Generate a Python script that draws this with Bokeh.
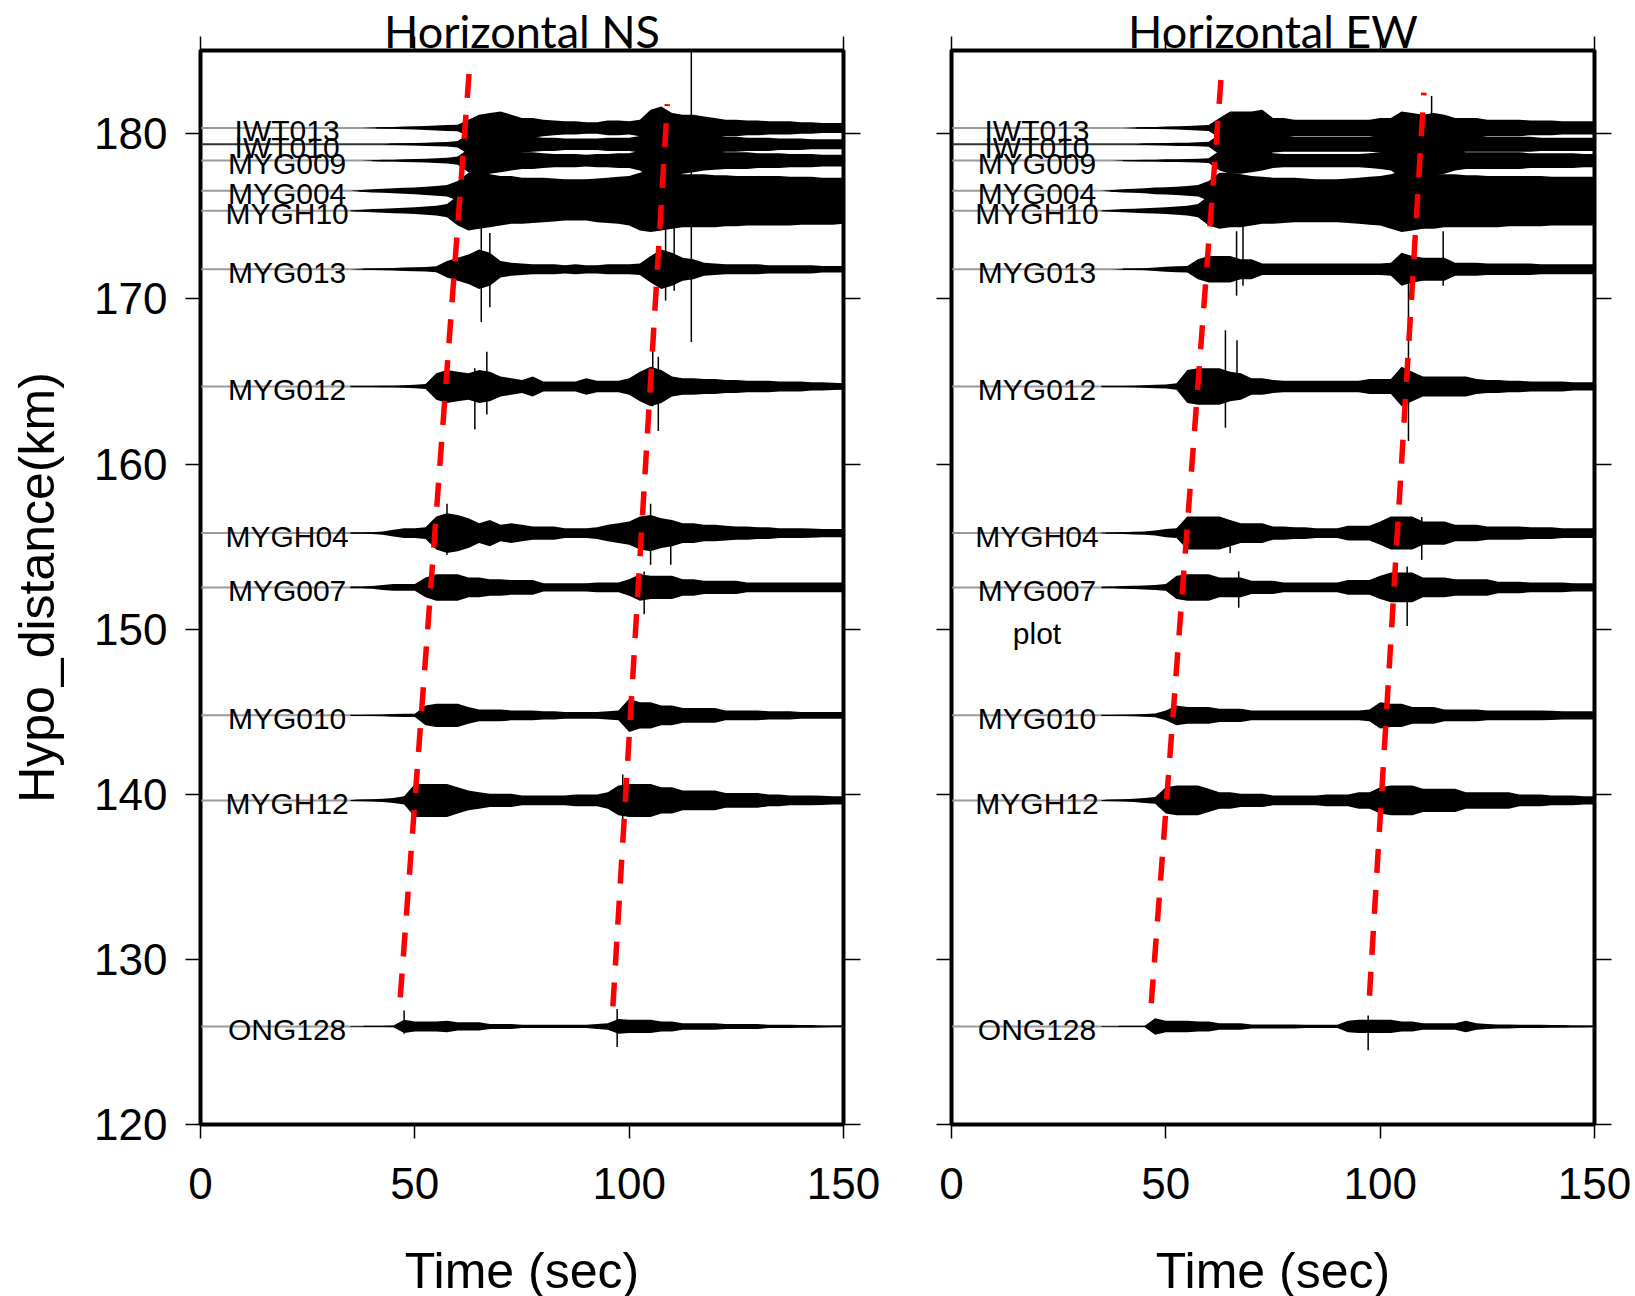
from bokeh.plotting import figure
from bokeh.layouts import row
from bokeh.models import Range1d, LinearAxis, FixedTicker
from bokeh.core.properties import value
from bokeh.embed import file_html
from bokeh.resources import INLINE

# ---------------- data ----------------
TIME = [35, 37.5, 40, 42.5, 45, 47.5, 50, 52.5, 55, 57.5, 60, 62.5, 65, 67.5, 70, 72.5,
        75, 77.5, 80, 82.5, 85, 87.5, 90, 92.5, 95, 97.5, 100, 102.5, 105, 107.5, 110,
        112.5, 115, 117.5, 120, 122.5, 125, 127.5, 130, 132.5, 135, 137.5, 140, 142.5,
        145, 147.5, 150]

STATIONS = ["IWT013", "IWT010", "MYG009", "MYG004", "MYGH10", "MYG013", "MYG012",
            "MYGH04", "MYG007", "MYG010", "MYGH12", "ONG128"]
DIST = [180.36, 179.37, 178.38, 176.55, 175.35, 171.8, 164.7, 155.82, 152.53, 144.78,
        139.63, 125.94]
START_NS = [41, 44, 40, 37, 36, 38, 35, 35, 35, 35, 36, 38]
START_EW = [43, 44, 40, 37, 36, 40, 35, 36, 36, 35, 36, 39]

# half-amplitude envelopes (km), Horizontal NS
NS_IWT013 = [0, 0, 0.02, 0.04, 0.05, 0.08, 0.1, 0.12, 0.15, 0.18, 0.2, 0.5, 0.8, 0.9, 1.0, 0.8, 0.6, 0.6, 0.5, 0.45, 0.4, 0.4, 0.35, 0.35, 0.45, 0.45, 0.4, 0.5, 1.1, 1.3, 0.9, 0.8, 0.8, 0.7, 0.6, 0.5, 0.5, 0.45, 0.45, 0.4, 0.4, 0.4, 0.35, 0.35, 0.3, 0.3, 0.3]
NS_IWT010 = [0, 0, 0, 0, 0.05, 0.06, 0.08, 0.1, 0.12, 0.14, 0.2, 0.6, 0.9, 0.8, 0.8, 0.7, 0.5, 0.45, 0.4, 0.4, 0.35, 0.35, 0.35, 0.35, 0.4, 0.4, 0.4, 0.5, 0.9, 1.0, 0.8, 0.7, 0.7, 0.6, 0.5, 0.45, 0.45, 0.4, 0.4, 0.4, 0.35, 0.35, 0.35, 0.3, 0.3, 0.3, 0.3]
NS_MYG009 = [0, 0, 0.03, 0.05, 0.06, 0.08, 0.1, 0.12, 0.15, 0.18, 0.25, 0.7, 0.9, 0.8, 0.7, 0.6, 0.5, 0.5, 0.45, 0.4, 0.4, 0.4, 0.35, 0.4, 0.4, 0.45, 0.45, 0.6, 1.0, 1.1, 0.9, 0.8, 0.7, 0.6, 0.55, 0.5, 0.5, 0.5, 0.45, 0.45, 0.45, 0.4, 0.4, 0.4, 0.35, 0.35, 0.35]
NS_MYG004 = [0, 0.05, 0.1, 0.12, 0.15, 0.18, 0.2, 0.25, 0.3, 0.35, 0.6, 1.1, 1.2, 1.0, 0.9, 0.9, 0.8, 0.8, 0.8, 0.75, 0.7, 0.7, 0.7, 0.75, 0.8, 0.85, 0.9, 1.1, 1.3, 1.2, 1.1, 1.0, 1.0, 1.0, 0.95, 0.95, 0.9, 0.9, 0.9, 0.9, 0.9, 0.85, 0.85, 0.85, 0.8, 0.8, 0.8]
NS_MYGH10 = [0.03, 0.06, 0.1, 0.12, 0.15, 0.18, 0.2, 0.25, 0.3, 0.4, 0.9, 1.2, 1.1, 1.0, 0.9, 0.8, 0.8, 0.75, 0.7, 0.65, 0.6, 0.6, 0.6, 0.7, 0.75, 0.8, 0.9, 1.2, 1.3, 1.2, 1.1, 1.0, 1.0, 1.0, 1.0, 0.95, 0.95, 0.9, 0.9, 0.9, 0.9, 0.9, 0.85, 0.85, 0.85, 0.85, 0.8]
NS_MYG013 = [0, 0.03, 0.05, 0.06, 0.08, 0.1, 0.12, 0.14, 0.18, 0.5, 0.7, 0.9, 1.2, 1.0, 0.5, 0.4, 0.35, 0.3, 0.3, 0.3, 0.25, 0.3, 0.25, 0.25, 0.3, 0.3, 0.3, 0.35, 0.8, 1.2, 1.0, 0.7, 0.6, 0.4, 0.35, 0.3, 0.3, 0.3, 0.3, 0.25, 0.25, 0.25, 0.25, 0.25, 0.2, 0.2, 0.2]
NS_MYG012 = [0.02, 0.02, 0.03, 0.04, 0.05, 0.08, 0.1, 0.15, 0.8, 1.0, 0.9, 0.8, 1.0, 0.9, 0.6, 0.5, 0.4, 0.6, 0.3, 0.3, 0.3, 0.3, 0.5, 0.35, 0.35, 0.35, 0.5, 0.9, 1.2, 1.0, 0.6, 0.5, 0.5, 0.45, 0.45, 0.4, 0.4, 0.35, 0.35, 0.35, 0.3, 0.3, 0.3, 0.25, 0.25, 0.22, 0.2]
NS_MYGH04 = [0.03, 0.03, 0.05, 0.1, 0.2, 0.3, 0.3, 0.35, 1.0, 1.2, 1.1, 0.9, 0.6, 0.8, 0.5, 0.6, 0.5, 0.4, 0.4, 0.4, 0.3, 0.3, 0.3, 0.35, 0.5, 0.6, 0.7, 1.0, 1.1, 0.9, 0.8, 0.6, 0.6, 0.5, 0.5, 0.45, 0.4, 0.4, 0.35, 0.35, 0.3, 0.3, 0.3, 0.28, 0.25, 0.25, 0.25]
NS_MYG007 = [0.05, 0.05, 0.08, 0.15, 0.2, 0.2, 0.2, 0.6, 0.8, 0.8, 0.8, 0.6, 0.6, 0.5, 0.5, 0.45, 0.45, 0.45, 0.25, 0.25, 0.25, 0.25, 0.25, 0.3, 0.3, 0.3, 0.5, 0.8, 0.7, 0.7, 0.7, 0.5, 0.5, 0.4, 0.4, 0.4, 0.4, 0.3, 0.3, 0.3, 0.3, 0.3, 0.3, 0.3, 0.3, 0.3, 0.3]
NS_MYG010 = [0.03, 0.03, 0.04, 0.05, 0.08, 0.1, 0.1, 0.6, 0.7, 0.7, 0.7, 0.5, 0.35, 0.35, 0.35, 0.3, 0.3, 0.3, 0.25, 0.25, 0.2, 0.2, 0.2, 0.2, 0.25, 0.3, 1.0, 0.8, 0.8, 0.6, 0.6, 0.45, 0.45, 0.45, 0.45, 0.3, 0.3, 0.3, 0.3, 0.25, 0.25, 0.25, 0.2, 0.2, 0.2, 0.2, 0.2]
NS_MYGH12 = [0.03, 0.05, 0.07, 0.1, 0.15, 0.25, 1.0, 1.0, 1.0, 1.0, 0.8, 0.6, 0.5, 0.4, 0.4, 0.4, 0.3, 0.3, 0.3, 0.3, 0.3, 0.35, 0.35, 0.35, 0.5, 0.9, 1.0, 1.0, 1.0, 0.8, 0.8, 0.6, 0.6, 0.6, 0.6, 0.45, 0.45, 0.45, 0.45, 0.35, 0.35, 0.3, 0.3, 0.3, 0.28, 0.25, 0.25]
NS_ONG128 = [0.02, 0.02, 0.02, 0.03, 0.05, 0.4, 0.3, 0.3, 0.3, 0.35, 0.25, 0.25, 0.25, 0.15, 0.15, 0.15, 0.1, 0.1, 0.1, 0.1, 0.1, 0.1, 0.1, 0.15, 0.2, 0.45, 0.4, 0.4, 0.4, 0.3, 0.3, 0.2, 0.2, 0.2, 0.2, 0.15, 0.15, 0.15, 0.15, 0.1, 0.1, 0.1, 0.08, 0.08, 0.06, 0.05, 0.05]

# Horizontal EW
EW_IWT013 = [0, 0, 0, 0.03, 0.05, 0.06, 0.08, 0.1, 0.12, 0.15, 0.18, 0.6, 1.0, 1.0, 1.0, 1.1, 0.6, 0.6, 0.5, 0.5, 0.5, 0.5, 0.5, 0.5, 0.5, 0.5, 0.6, 0.6, 1.0, 0.9, 0.8, 0.9, 0.8, 0.6, 0.6, 0.6, 0.5, 0.5, 0.5, 0.5, 0.45, 0.45, 0.45, 0.4, 0.4, 0.4, 0.4]
EW_IWT010 = [0, 0, 0, 0, 0.05, 0.06, 0.08, 0.1, 0.1, 0.12, 0.15, 0.6, 0.8, 0.8, 0.8, 0.7, 0.5, 0.45, 0.45, 0.45, 0.45, 0.45, 0.45, 0.45, 0.45, 0.45, 0.5, 0.6, 0.9, 0.9, 0.9, 0.8, 0.7, 0.5, 0.45, 0.45, 0.45, 0.45, 0.45, 0.45, 0.45, 0.4, 0.4, 0.4, 0.4, 0.4, 0.4]
EW_MYG009 = [0, 0, 0.03, 0.04, 0.05, 0.06, 0.08, 0.08, 0.1, 0.12, 0.15, 0.6, 0.8, 0.8, 0.7, 0.6, 0.45, 0.4, 0.4, 0.4, 0.4, 0.4, 0.4, 0.4, 0.4, 0.45, 0.5, 0.6, 1.0, 1.0, 1.0, 0.9, 0.8, 0.6, 0.5, 0.5, 0.5, 0.5, 0.5, 0.5, 0.45, 0.45, 0.45, 0.45, 0.45, 0.4, 0.4]
EW_MYG004 = [0, 0.05, 0.1, 0.12, 0.15, 0.2, 0.22, 0.25, 0.3, 0.35, 0.6, 1.1, 1.1, 1.0, 0.9, 0.85, 0.8, 0.8, 0.8, 0.75, 0.7, 0.7, 0.7, 0.75, 0.8, 0.85, 0.9, 1.0, 1.2, 1.1, 1.0, 1.0, 1.0, 1.0, 0.95, 0.95, 0.9, 0.9, 0.9, 0.9, 0.9, 0.9, 0.85, 0.85, 0.85, 0.85, 0.85]
EW_MYGH10 = [0.03, 0.06, 0.1, 0.12, 0.15, 0.18, 0.2, 0.25, 0.3, 0.4, 0.9, 1.1, 1.0, 1.0, 0.9, 0.8, 0.8, 0.75, 0.7, 0.7, 0.7, 0.7, 0.7, 0.75, 0.8, 0.85, 0.9, 1.1, 1.3, 1.2, 1.1, 1.1, 1.0, 1.0, 1.0, 1.0, 1.0, 1.0, 0.95, 0.95, 0.95, 0.95, 0.9, 0.9, 0.9, 0.9, 0.9]
EW_MYG013 = [0, 0, 0.03, 0.05, 0.06, 0.1, 0.15, 0.18, 0.2, 0.6, 0.8, 0.8, 0.8, 0.6, 0.6, 0.35, 0.35, 0.35, 0.35, 0.35, 0.35, 0.35, 0.35, 0.35, 0.35, 0.35, 0.35, 0.4, 1.0, 0.8, 0.7, 0.7, 0.7, 0.4, 0.4, 0.4, 0.35, 0.35, 0.35, 0.35, 0.35, 0.3, 0.3, 0.3, 0.3, 0.3, 0.3]
EW_MYG012 = [0.02, 0.02, 0.03, 0.05, 0.08, 0.1, 0.12, 0.2, 1.0, 1.1, 1.1, 1.1, 0.9, 0.8, 0.5, 0.5, 0.4, 0.35, 0.35, 0.35, 0.35, 0.35, 0.35, 0.35, 0.35, 0.45, 0.45, 0.45, 1.2, 0.9, 0.6, 0.6, 0.6, 0.6, 0.6, 0.45, 0.4, 0.4, 0.35, 0.35, 0.3, 0.3, 0.3, 0.3, 0.25, 0.25, 0.25]
EW_MYGH04 = [0.03, 0.03, 0.05, 0.08, 0.1, 0.15, 0.25, 0.3, 1.0, 1.0, 1.0, 1.0, 0.8, 0.6, 0.6, 0.6, 0.4, 0.4, 0.35, 0.35, 0.3, 0.3, 0.3, 0.45, 0.45, 0.45, 0.7, 1.0, 1.0, 1.0, 0.7, 0.7, 0.7, 0.5, 0.5, 0.5, 0.4, 0.4, 0.4, 0.4, 0.35, 0.35, 0.35, 0.3, 0.3, 0.3, 0.3]
EW_MYG007 = [0.05, 0.05, 0.08, 0.1, 0.12, 0.15, 0.2, 0.7, 0.8, 0.8, 0.8, 0.6, 0.6, 0.6, 0.4, 0.4, 0.4, 0.3, 0.3, 0.3, 0.3, 0.3, 0.3, 0.45, 0.45, 0.45, 0.7, 0.9, 0.9, 0.9, 0.6, 0.6, 0.6, 0.5, 0.5, 0.5, 0.5, 0.35, 0.35, 0.35, 0.3, 0.3, 0.3, 0.3, 0.25, 0.25, 0.25]
EW_MYG010 = [0.03, 0.03, 0.04, 0.06, 0.08, 0.12, 0.3, 0.6, 0.5, 0.5, 0.5, 0.4, 0.4, 0.4, 0.3, 0.3, 0.3, 0.3, 0.3, 0.3, 0.3, 0.3, 0.3, 0.3, 0.3, 0.35, 0.8, 0.7, 0.7, 0.5, 0.5, 0.5, 0.35, 0.35, 0.35, 0.35, 0.3, 0.3, 0.3, 0.3, 0.3, 0.3, 0.28, 0.25, 0.25, 0.25, 0.25]
EW_MYGH12 = [0.03, 0.05, 0.07, 0.1, 0.15, 0.2, 0.8, 0.9, 0.9, 0.9, 0.7, 0.5, 0.5, 0.4, 0.4, 0.4, 0.3, 0.3, 0.3, 0.3, 0.3, 0.35, 0.35, 0.35, 0.5, 0.5, 0.8, 0.9, 0.9, 0.9, 0.7, 0.7, 0.7, 0.7, 0.5, 0.5, 0.5, 0.5, 0.5, 0.35, 0.35, 0.35, 0.3, 0.3, 0.3, 0.25, 0.25]
EW_ONG128 = [0.02, 0.02, 0.02, 0.02, 0.03, 0.5, 0.35, 0.35, 0.35, 0.3, 0.3, 0.2, 0.2, 0.2, 0.12, 0.12, 0.12, 0.12, 0.12, 0.1, 0.1, 0.1, 0.1, 0.35, 0.4, 0.4, 0.4, 0.4, 0.3, 0.3, 0.2, 0.2, 0.2, 0.2, 0.35, 0.2, 0.15, 0.12, 0.12, 0.1, 0.1, 0.1, 0.08, 0.08, 0.06, 0.06, 0.05]

NS_AMPS = [NS_IWT013, NS_IWT010, NS_MYG009, NS_MYG004, NS_MYGH10, NS_MYG013, NS_MYG012,
           NS_MYGH04, NS_MYG007, NS_MYG010, NS_MYGH12, NS_ONG128]
EW_AMPS = [EW_IWT013, EW_IWT010, EW_MYG009, EW_MYG004, EW_MYGH10, EW_MYG013, EW_MYG012,
           EW_MYGH04, EW_MYG007, EW_MYG010, EW_MYGH12, EW_ONG128]

# isolated large spikes: time, top, bottom (km)
NS_SPK_T = [114.5, 65.5, 67.5, 108.5, 110.5, 64.0, 66.8, 105.5, 106.8, 57.5, 105.0, 109.7, 103.5, 98.5, 47.5, 97.2]
NS_SPK_TOP = [185.0, 174.5, 174.0, 175.0, 175.0, 165.8, 166.8, 166.9, 166.5, 157.6, 157.6, 156.5, 153.5, 141.2, 126.9, 127.0]
NS_SPK_BOT = [167.4, 168.6, 169.5, 169.9, 170.5, 162.1, 163.0, 163.5, 162.0, 154.5, 153.9, 153.9, 150.9, 138.2, 125.5, 124.7]
EW_SPK_T = [106.6, 112.0, 66.5, 68.0, 114.7, 63.9, 66.6, 65.0, 109.7, 106.3, 67.0, 97.2]
EW_SPK_TOP = [172.3, 182.3, 174.1, 174.5, 174.1, 168.1, 167.5, 156.6, 156.8, 153.8, 153.5, 126.6]
EW_SPK_BOT = [161.4, 179.0, 170.2, 170.8, 170.8, 162.2, 164.0, 154.6, 154.2, 150.2, 151.3, 124.5]

# picked arrival lines (time, distance) bottom -> top
NS_P_T = [46.6, 62.7]
NS_P_D = [127.7, 183.84]
NS_S_T = [96.2, 108.9]
NS_S_D = [127.15, 181.8]
EW_P_T = [46.6, 62.9]
EW_P_D = [127.34, 183.4]
EW_S_T = [97.5, 110.2]
EW_S_D = [127.8, 182.5]

X_TICKS = [0, 50, 100, 150]
Y_TICKS = [120, 130, 140, 150, 160, 170, 180]

SANS = "Liberation Sans"


def style_axis(ax, tick_out, ticks, show_labels):
    ax.ticker = FixedTicker(ticks=ticks)
    ax.major_tick_in = 0
    ax.major_tick_out = tick_out
    ax.minor_tick_in = 0
    ax.minor_tick_out = 0
    ax.major_tick_line_color = "black"
    ax.major_tick_line_width = 1.5
    ax.axis_line_color = "black"
    ax.axis_line_width = 1.5
    ax.major_label_text_font = SANS
    ax.major_label_text_color = "black"
    if show_labels:
        ax.major_label_text_font_size = "44px"
    else:
        ax.major_label_overrides = {t: "" for t in ticks}
        ax.major_label_text_font_size = "1px"
        ax.major_label_standoff = 0


def make_panel(title, amps, starts, spk_t, spk_top, spk_bot, p_t, p_d, s_t, s_d,
               left_border, right_border, show_ylabels, label_t):
    p = figure(x_range=Range1d(0, 150), y_range=Range1d(120, 185.05),
               frame_width=643, frame_height=1074,
               min_border_left=left_border, min_border_right=right_border,
               min_border_top=50, min_border_bottom=172,
               output_backend="svg", toolbar_location=None)
    p.xgrid.visible = False
    p.ygrid.visible = False
    p.outline_line_color = "black"
    p.outline_line_width = 4
    p.outline_line_alpha = 1
    p.background_fill_color = "white"
    p.border_fill_color = "white"

    style_axis(p.xaxis[0], 14, X_TICKS, True)
    p.xaxis.major_label_standoff = 29
    p.xaxis.axis_label = "Time (sec)"
    p.xaxis.axis_label_text_font = SANS
    p.xaxis.axis_label_text_font_style = "normal"
    p.xaxis.axis_label_text_font_size = "50px"
    p.xaxis.axis_label_text_color = "black"
    p.xaxis.axis_label_standoff = 41

    style_axis(p.yaxis[0], 15, Y_TICKS, show_ylabels)
    if show_ylabels:
        p.yaxis.major_label_standoff = 18
        p.yaxis.axis_label = "Hypo_distance(km)"
        p.yaxis.axis_label_text_font = SANS
        p.yaxis.axis_label_text_font_style = "normal"
        p.yaxis.axis_label_text_font_size = "50px"
        p.yaxis.axis_label_text_color = "black"
        p.yaxis.axis_label_standoff = 26

    # top axis: ticks only, panel title set as its label
    top = LinearAxis()
    style_axis(top, 14, X_TICKS, False)
    top.axis_label = title
    top.axis_label_text_font = "Lato"
    top.axis_label_text_font_style = "normal"
    top.axis_label_text_font_size = "45px"
    top.axis_label_text_color = "black"
    top.axis_label_standoff = -21
    p.add_layout(top, "above")
    right = LinearAxis()
    style_axis(right, 17, Y_TICKS, False)
    p.add_layout(right, "right")

    # station baselines
    for i, d in enumerate(DIST):
        col = "#333333" if STATIONS[i] == "IWT010" else "#9a9a9a"
        p.line(x=[0, 150], y=[d, d], line_color=col, line_width=2)

    # traces
    for i, d in enumerate(DIST):
        a = amps[i]
        p.line(x=[starts[i], 150], y=[d, d], line_color="black", line_width=1.3)
        p.varea(x=TIME, y1=[d - v for v in a], y2=[d + v for v in a],
                fill_color="black", fill_alpha=1)
    p.segment(x0=spk_t, y0=spk_bot, x1=spk_t, y1=spk_top,
              line_color="black", line_width=1.5)

    # station names
    p.text(x=[label_t] * len(DIST), y=DIST, text=STATIONS,
           text_font=value(SANS), text_font_size="30px", text_color="black",
           text_align="center", text_baseline="middle", y_offset=3)

    # arrivals
    p.line(x=p_t, y=p_d, line_color="#ff0000", line_width=5.5, line_dash="24 17")
    p.line(x=s_t, y=s_d, line_color="#ff0000", line_width=5.5, line_dash="24 17")
    return p


p1 = make_panel("Horizontal NS", NS_AMPS, START_NS, NS_SPK_T, NS_SPK_TOP, NS_SPK_BOT,
                NS_P_T, NS_P_D, NS_S_T, NS_S_D, 200, 54, True, 20.2)
p2 = make_panel("Horizontal EW", EW_AMPS, START_EW, EW_SPK_T, EW_SPK_TOP, EW_SPK_BOT,
                EW_P_T, EW_P_D, EW_S_T, EW_S_D, 54, 38, False, 19.95)
p2.text(x=[19.95], y=[149.75], text=["plot"], text_font=value(SANS),
        text_font_size="30px", text_color="black", text_align="center",
        text_baseline="middle")

layout = row(p1, p2, spacing=0)
open("out.html", "w").write(file_html(layout, INLINE))
